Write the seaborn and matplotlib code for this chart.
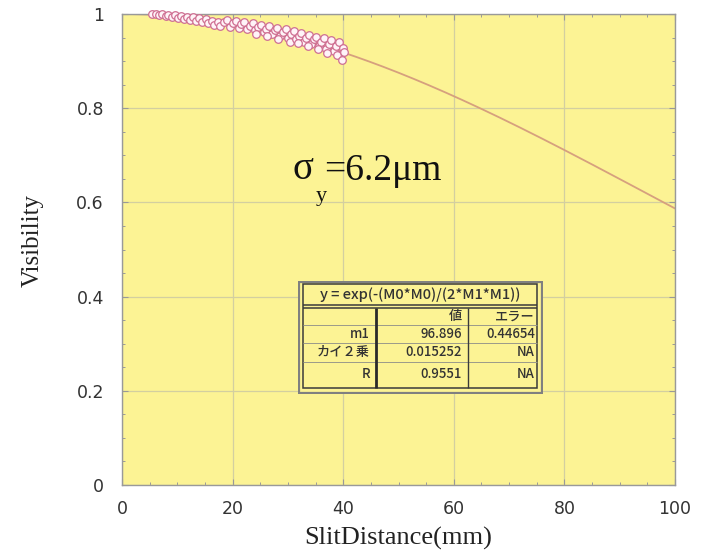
import numpy as np
import pandas as pd
import matplotlib
matplotlib.use("Agg")
import matplotlib.pyplot as plt
from matplotlib.ticker import MultipleLocator, FixedLocator, FixedFormatter
from matplotlib.patches import Rectangle
import seaborn as sns

# Measured visibility vs. slit separation
slit_mm = [
    5.4, 6.1, 6.7, 7.3, 7.9, 8.4, 9.0, 9.5, 10.1, 10.6, 11.2, 11.8,
    12.3, 12.9, 13.4, 14.0, 14.5, 15.1, 15.6, 16.2, 16.7, 17.3, 17.8, 18.4, 18.9, 19.5, 20.0,
    20.6, 21.1, 21.6, 22.1, 22.6, 23.1, 23.6, 24.1, 24.6, 25.1, 25.6, 26.1, 26.6, 27.1,
    27.6, 28.1, 28.6, 29.1, 29.6, 30.1, 24.3, 26.3, 28.3, 30.3,
    30.6, 31.1, 31.5, 32.0, 32.4, 32.9, 33.3, 33.8, 34.2, 34.7, 35.1, 35.6, 36.0, 36.5,
    36.9, 37.4, 37.8, 38.3, 38.7, 39.2, 39.6, 40.0,
    31.8, 33.6, 35.4, 37.1, 38.9, 39.7, 40.1,
]
visibility = [
    1.000, 0.999, 0.997, 1.000, 0.996, 0.998, 0.994, 0.997, 0.992, 0.996, 0.990, 0.994,
    0.988, 0.993, 0.985, 0.991, 0.982, 0.989, 0.980, 0.986, 0.977, 0.984, 0.975, 0.982, 0.987, 0.973, 0.980,
    0.985, 0.971, 0.978, 0.983, 0.968, 0.975, 0.980, 0.965, 0.972, 0.977, 0.962, 0.969, 0.975, 0.958,
    0.966, 0.971, 0.954, 0.962, 0.968, 0.950, 0.958, 0.953, 0.947, 0.941,
    0.958, 0.964, 0.946, 0.954, 0.960, 0.941, 0.950, 0.956, 0.936, 0.946, 0.952, 0.931, 0.941, 0.948,
    0.926, 0.937, 0.944, 0.921, 0.932, 0.940, 0.915, 0.928,
    0.938, 0.932, 0.925, 0.918, 0.912, 0.903, 0.920,
]

# Gaussian fit parameters: y = exp(-(M0*M0)/(2*M1*M1))
fit_m1 = 96.896
fit_m1_err = 0.44654
fit_chi2 = 0.015252
fit_r = 0.9551

x_ticks = [0, 20, 40, 60, 80, 100]
y_ticks = [0, 0.2, 0.4, 0.6, 0.8, 1.0]
y_tick_labels = ["0", "0.2", "0.4", "0.6", "0.8", "1"]

W, H = 703, 552
sns.set_theme(style="ticks")
plt.rcParams["font.family"] = ["DejaVu Sans"]

fig = plt.figure(figsize=(W / 100, H / 100), dpi=100)


def fx(px):
    return px / W


def fy(py):
    return 1 - py / H


L, R, T, B = 122, 675, 14, 485
ax = fig.add_axes([fx(L), fy(B), (R - L) / W, (B - T) / H])
bg = "#fcf394"
ax.set_facecolor(bg)

# fitted curve
xs = np.linspace(0, 100, 401)
fit_df = pd.DataFrame({"x": xs, "y": np.exp(-(xs * xs) / (2 * fit_m1 * fit_m1))})
sns.lineplot(data=fit_df, x="x", y="y", ax=ax, color="#d6a07e", lw=1.3, zorder=2)

pts = pd.DataFrame({"x": slit_mm, "y": visibility})
sns.scatterplot(data=pts, x="x", y="y", ax=ax, s=30, marker="o",
                facecolor="#fff4f8", edgecolor="#cf6f92", linewidth=0.9, zorder=3,
                clip_on=False)

ax.set_xlim(0, 100)
ax.set_ylim(0, 1)
ax.xaxis.set_major_locator(FixedLocator(x_ticks))
ax.xaxis.set_minor_locator(MultipleLocator(5))
ax.yaxis.set_major_locator(FixedLocator(y_ticks))
ax.yaxis.set_major_formatter(FixedFormatter(y_tick_labels))
ax.yaxis.set_minor_locator(MultipleLocator(0.05))
ax.grid(True, which="major", color="#d3cfa0", lw=0.9, zorder=0)
ax.set_axisbelow(True)
ax.tick_params(which="both", direction="in", top=True, right=True,
               colors="#999999", labelcolor="#333333", labelsize=12.5)
ax.tick_params(which="major", length=4, width=0.8)
ax.tick_params(which="minor", length=2.5, width=0.7)
ax.tick_params(axis="x", pad=11)
ax.tick_params(axis="y", pad=13)
for sp in ax.spines.values():
    sp.set_color("#999999")
    sp.set_linewidth(1.0)

serif = ["Liberation Serif", "DejaVu Serif"]
ax.set_xlabel("SlitDistance(mm)", family=serif, fontsize=19, color="#222222")
ax.set_ylabel("Visibility", family=serif, fontsize=18, color="#222222")
ax.xaxis.set_label_coords(0.5, -0.09)
ax.yaxis.set_label_coords(-0.142, 0.52)

# beam size annotation
fig.text(fx(293), fy(179), "σ", family=serif, fontsize=28, color="#111111",
         ha="left", va="baseline")
fig.text(fx(316), fy(201), "y", family=serif, fontsize=16, color="#111111",
         ha="left", va="baseline")
fig.text(fx(324), fy(180), "=6.2μm", family=serif, fontsize=27, color="#111111",
         ha="left", va="baseline")

# fit result table
tx0, tx1, ty0, ty1 = 298, 543, 281, 394
tab = fig.add_axes([fx(tx0), fy(ty1), (tx1 - tx0) / W, (ty1 - ty0) / H])
tab.set_xlim(tx0, tx1)
tab.set_ylim(ty1, ty0)
tab.axis("off")
tab.add_patch(Rectangle((tx0 + 1, ty0 + 1), tx1 - tx0 - 2, ty1 - ty0 - 2,
                        facecolor=bg, edgecolor="#808080", lw=1.6))
tab.add_patch(Rectangle((303, 284.5), 537 - 303, 388 - 284.5,
                        facecolor="none", edgecolor="#3a3a3a", lw=1.1))
for yy, c, w in [(305, "#3a3a3a", 1.1), (308, "#3a3a3a", 1.1),
                 (325, "#9a9a8a", 0.7), (343.5, "#9a9a8a", 0.7), (362, "#9a9a8a", 0.7)]:
    tab.plot([303, 537], [yy, yy], color=c, lw=w, solid_capstyle="butt")
tab.plot([376, 376], [308, 388], color="#2a2a2a", lw=2.0, solid_capstyle="butt")
tab.plot([468, 468], [308, 388], color="#3a3a3a", lw=1.0, solid_capstyle="butt")

tf = dict(family=["Noto Sans CJK JP", "DejaVu Sans"], fontsize=9.5, color="#333333",
          va="center", fontweight="medium")
tab.text(420, 294.5, "y = exp(-(M0*M0)/(2*M1*M1))", ha="center",
         **{**tf, "fontsize": 10.5})
rows = [
    ("", "値", "エラー", 316.5),
    ("m1", f"{fit_m1:.3f}", f"{fit_m1_err:.5f}", 334.5),
    ("カイ２乗", f"{fit_chi2:.6f}", "NA", 352.5),
    ("R", f"{fit_r:.4f}", "NA", 374),
]
for c1, c2, c3, yy in rows:
    tab.text(370, yy, c1, ha="right", **tf)
    tab.text(462, yy, c2, ha="right", **tf)
    tab.text(535, yy, c3, ha="right", **tf)

fig.savefig("out.png", dpi=100)
